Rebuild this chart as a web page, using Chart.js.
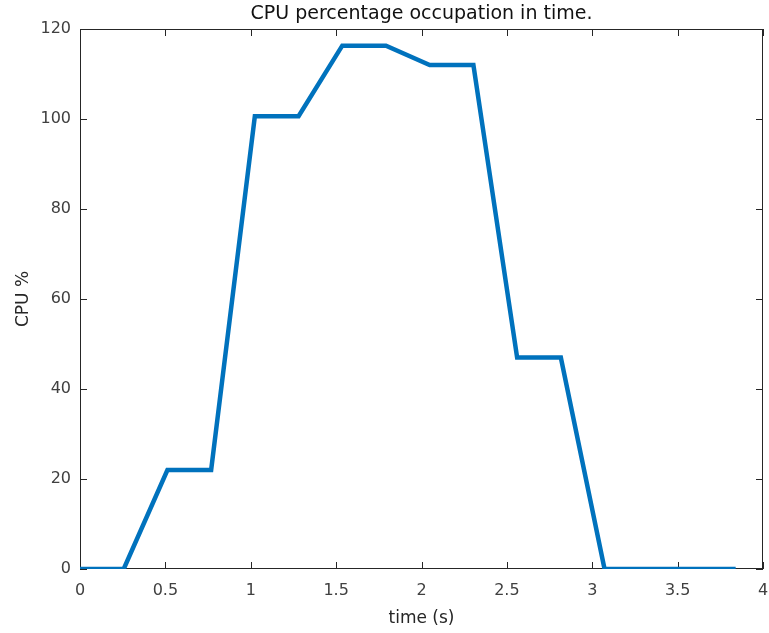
<!DOCTYPE html>
<html>
<head>
<meta charset="utf-8">
<script src="https://cdn.jsdelivr.net/npm/chart.js@4"></script>
<style>
  html, body { margin: 0; padding: 0; background: #fff; }
  #wrap { width: 769px; height: 633px; }
</style>
</head>
<body>
<div id="wrap"><canvas id="cpu-chart" width="769" height="633"></canvas></div>
<script>
// sample times (s) and CPU occupation (%)
const times = [0, 0.256, 0.512, 0.768, 1.024, 1.28, 1.536, 1.792, 2.048, 2.304, 2.56, 2.816, 3.072, 3.328, 3.584, 3.84];
const cpuValues = [0, 0, 22, 22, 100.6, 100.6, 116.3, 116.3, 112, 112, 47, 47, 0, 0, 0, 0];
const xTicks = [0, 0.5, 1, 1.5, 2, 2.5, 3, 3.5, 4];
const yTicks = [0, 20, 40, 60, 80, 100, 120];
const chartTitle = 'CPU percentage occupation in time.';

const axisColor = '#262626';
const fontFamily = '"DejaVu Sans", Verdana, sans-serif';

// MATLAB style box with inward ticks on all four sides, title centred over the axes
const boxPlugin = {
    id: 'matlabBox',
    beforeDatasetsDraw(chart) {
        const { ctx, chartArea: a, scales } = chart;
        const len = 7;
        ctx.save();
        ctx.strokeStyle = axisColor;
        ctx.lineWidth = 1;
        ctx.strokeRect(a.left + 0.5, a.top + 0.5, a.right - a.left - 1, a.bottom - a.top - 1);
        ctx.beginPath();
        xTicks.forEach(v => {
            const px = Math.round(scales.x.getPixelForValue(v)) + 0.5;
            ctx.moveTo(px, a.bottom); ctx.lineTo(px, a.bottom - len);
            ctx.moveTo(px, a.top); ctx.lineTo(px, a.top + len);
        });
        yTicks.forEach(v => {
            const py = Math.round(scales.y.getPixelForValue(v)) + 0.5;
            ctx.moveTo(a.left, py); ctx.lineTo(a.left + len, py);
            ctx.moveTo(a.right, py); ctx.lineTo(a.right - len, py);
        });
        ctx.stroke();

        ctx.fillStyle = '#111';
        ctx.font = '19px ' + fontFamily;
        ctx.textAlign = 'center';
        ctx.textBaseline = 'middle';
        ctx.fillText(chartTitle, (a.left + a.right) / 2, 14);
        ctx.restore();
    }
};

const ctx = document.getElementById('cpu-chart').getContext('2d');
const cpuChart = new Chart(ctx, {
    type: 'line',
    data: {
        datasets: [{
            label: 'CPU %',
            data: times.map((t, i) => ({ x: t, y: cpuValues[i] })),
            borderColor: '#0072BD',
            borderWidth: 4.5,
            pointRadius: 0,
            tension: 0,
            fill: false
        }]
    },
    options: {
        responsive: false,
        animation: false,
        layout: { padding: { left: 0, right: 6, top: 29, bottom: 0 } },
        plugins: {
            legend: { display: false },
            tooltip: { enabled: false },
            title: { display: false }
        },
        scales: {
            x: {
                type: 'linear',
                min: 0,
                max: 4,
                afterBuildTicks: s => { s.ticks = xTicks.map(v => ({ value: v })); },
                afterFit: s => { s.height = 64; s.paddingLeft = 0; s.paddingRight = 0; },
                grid: { display: false, drawTicks: false },
                border: { display: false },
                ticks: {
                    padding: 12,
                    color: '#404040',
                    font: { family: fontFamily, size: 16 },
                    maxRotation: 0,
                    callback: v => String(v)
                },
                title: {
                    display: true,
                    text: 'time (s)',
                    color: axisColor,
                    font: { family: fontFamily, size: 17 },
                    padding: { top: 0, bottom: 4 }
                }
            },
            y: {
                min: 0,
                max: 120,
                afterBuildTicks: s => { s.ticks = yTicks.map(v => ({ value: v })); },
                afterFit: s => { s.width = 80; s.paddingTop = 0; s.paddingBottom = 0; },
                grid: { display: false, drawTicks: false },
                border: { display: false },
                ticks: {
                    padding: 9,
                    color: '#404040',
                    font: { family: fontFamily, size: 16 },
                    callback: v => String(v)
                },
                title: {
                    display: true,
                    text: 'CPU %',
                    color: axisColor,
                    font: { family: fontFamily, size: 17 },
                    padding: { top: 13, bottom: 0 }
                }
            }
        }
    },
    plugins: [boxPlugin]
});
</script>
</body>
</html>
